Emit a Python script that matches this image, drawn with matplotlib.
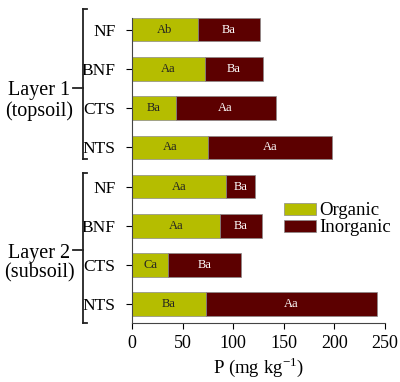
import matplotlib
matplotlib.use("Agg")
import matplotlib.pyplot as plt
from matplotlib.transforms import blended_transform_factory
from matplotlib.patches import Patch

plt.rcParams["font.family"] = ["Liberation Serif", "DejaVu Serif"]
plt.rcParams["mathtext.fontset"] = "stix"

# Data (P, mg kg-1)
treatments = ["NF", "BNF", "CTS", "NTS"]
layer1_organic = [65, 72, 43, 75]
layer1_inorganic = [61, 57, 99, 123]
layer2_organic = [93, 87, 36, 73]
layer2_inorganic = [29, 41, 72, 169]

layer1_org_letters = ["Ab", "Aa", "Ba", "Aa"]
layer1_inorg_letters = ["Ba", "Ba", "Aa", "Aa"]
layer2_org_letters = ["Aa", "Aa", "Ca", "Ba"]
layer2_inorg_letters = ["Ba", "Ba", "Ba", "Aa"]

ORG_COLOR = "#b5bd00"
INORG_COLOR = "#5c0000"

organic = layer1_organic + layer2_organic
inorganic = layer1_inorganic + layer2_inorganic
org_letters = layer1_org_letters + layer2_org_letters
inorg_letters = layer1_inorg_letters + layer2_inorg_letters
labels = treatments + treatments
ypos = list(range(len(labels)))

fig = plt.figure(figsize=(4.0, 3.82), dpi=100)
ax = fig.add_axes([0.33, 0.1545, 0.6325, 0.7985])

ax.barh(ypos, organic, height=0.6, color=ORG_COLOR,
        edgecolor="#8a8a8a", linewidth=0.5, label="Organic")
ax.barh(ypos, inorganic, left=organic, height=0.6, color=INORG_COLOR,
        edgecolor="#8a8a8a", linewidth=0.5, label="Inorganic")

# significance letters inside each segment
for y, o, i, lo, li in zip(ypos, organic, inorganic, org_letters, inorg_letters):
    ax.text(o / 2, y, lo, ha="center", va="center", fontsize=9, color="#222222")
    ax.text(o + i / 2, y, li, ha="center", va="center", fontsize=9, color="white")

ax.set_ylim(7.48, -0.3)
ax.set_xlim(0, 250)
ax.set_yticks(ypos)
ax.set_yticklabels(labels, fontsize=12.5)
ax.set_xticks([0, 50, 100, 150, 200, 250])
ax.tick_params(axis="x", labelsize=13, length=4, pad=5)
ax.tick_params(axis="y", length=4, pad=8)
ax.set_xlabel(r"P (mg kg$^{\mathregular{-1}}$)", fontsize=13.5, labelpad=2)

for side in ["top", "right"]:
    ax.spines[side].set_visible(False)
for side in ["left", "bottom"]:
    ax.spines[side].set_color("#444444")
    ax.spines[side].set_linewidth(0.8)

# layer brackets on the left
trans = blended_transform_factory(ax.transAxes, ax.transData)
bx = -0.194
brackets = [(-0.54, 3.30, 1.48, "Layer 1\n(topsoil)"),
            (3.66, 7.49, 5.63, "Layer 2\n(subsoil)")]
for top, bottom, mid, text in brackets:
    kw = dict(transform=trans, clip_on=False, color="#222222", lw=1.3)
    ax.plot([bx, bx], [top, bottom], **kw)
    ax.plot([bx, bx + 0.016], [top, top], **kw)
    ax.plot([bx, bx + 0.016], [bottom, bottom], **kw)
    ax.plot([bx - 0.04, bx], [mid, mid], **kw)
    ax.text(-0.366, mid - 0.17, text, transform=trans, ha="center", va="top",
            fontsize=14.5, linespacing=1.05)

handles = [Patch(facecolor=ORG_COLOR, edgecolor="#8a8a8a", lw=0.5),
           Patch(facecolor=INORG_COLOR, edgecolor="#8a8a8a", lw=0.5)]
ax.legend(handles, ["Organic", "Inorganic"], loc="upper left",
          bbox_to_anchor=(0.60, 0.395), frameon=False, fontsize=13.5,
          handlelength=1.7, handleheight=0.6, handletextpad=0.2,
          labelspacing=0.0, borderaxespad=0, borderpad=0)

fig.savefig("out.png", dpi=100)
